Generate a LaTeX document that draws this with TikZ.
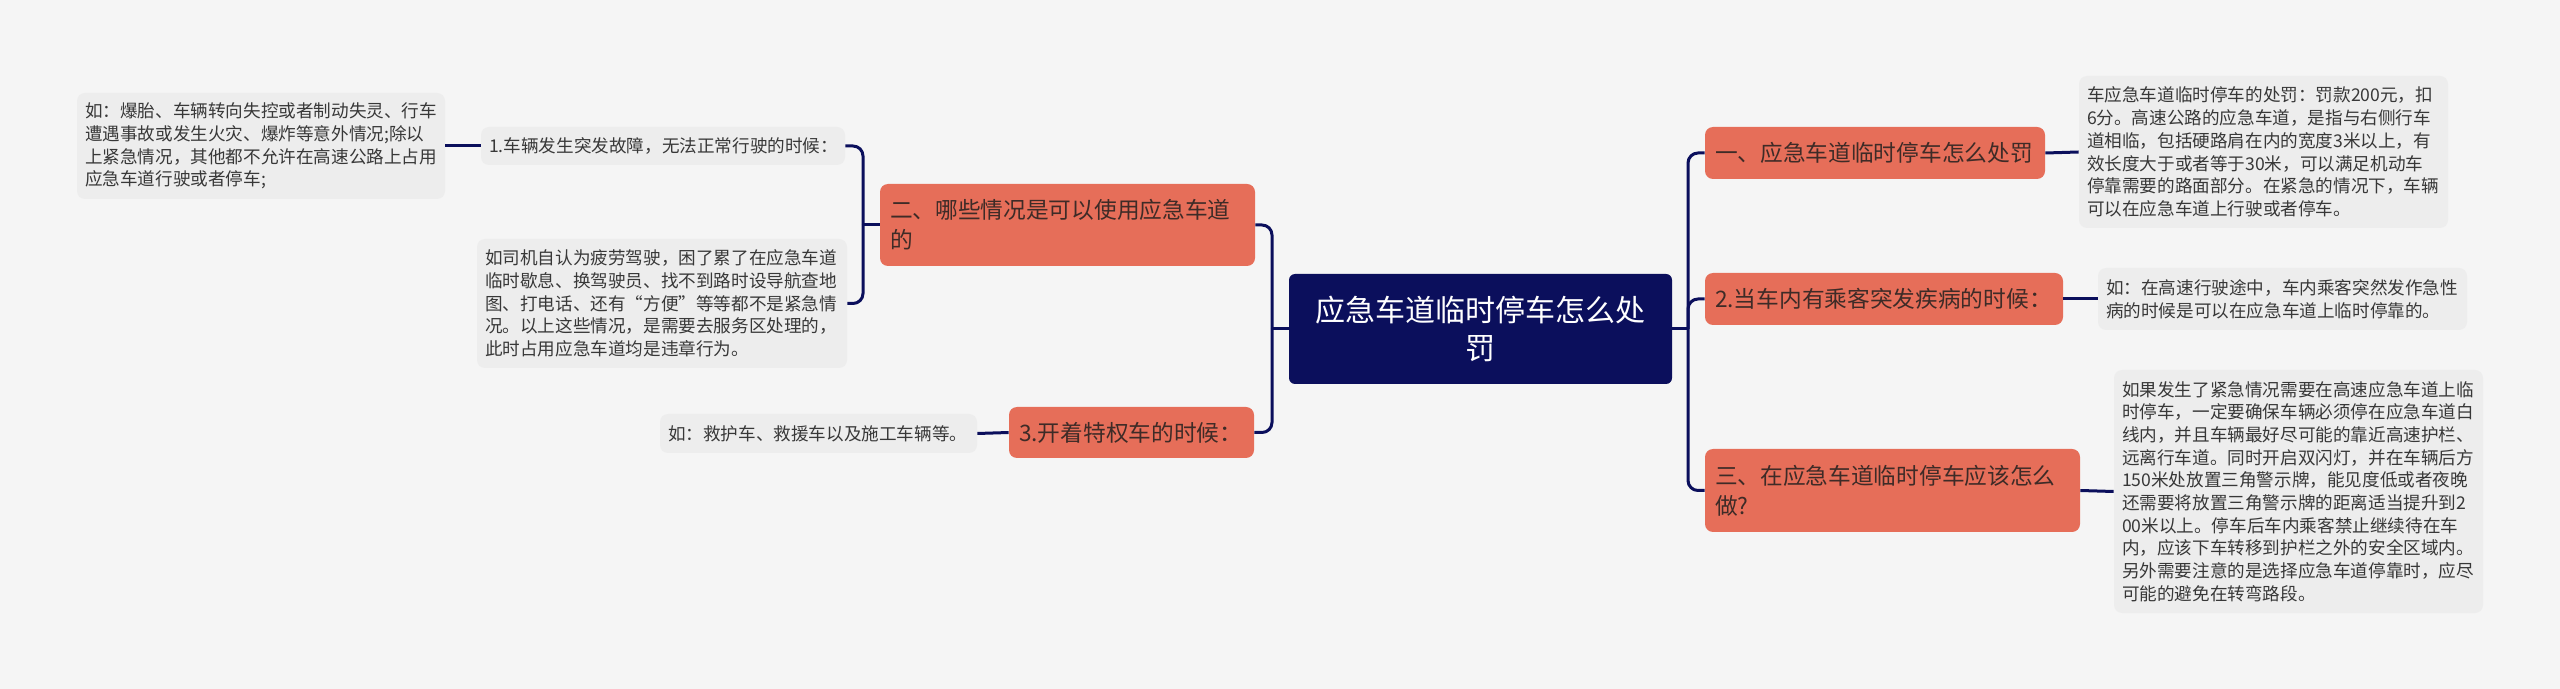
\documentclass[tikz,border=0pt]{standalone}
\usepackage{fontspec}
\setmainfont{Noto Sans CJK SC}
\definecolor{bg}{HTML}{F5F5F5}
\definecolor{leafbg}{HTML}{EDEDED}
\definecolor{leaftext}{HTML}{383838}
\definecolor{navy}{HTML}{0B0F5C}
\definecolor{salmon}{HTML}{E66E59}
\definecolor{branchtext}{HTML}{3E2B27}
\begin{document}
\begin{tikzpicture}[x=0.5pt,y=-0.5pt,
  conn/.style={draw=navy,line width=1.5pt,rounded corners=5pt},
  leaf/.style={fill=leafbg,rounded corners=4pt,inner xsep=4pt,inner ysep=0pt,align=left,text=leaftext,font=\fontsize{8.8pt}{11.35pt}\selectfont},
  branch/.style={fill=salmon,rounded corners=4pt,inner xsep=5pt,inner ysep=0pt,align=left,text=branchtext,font=\fontsize{11.35pt}{15pt}\selectfont},
  root/.style={fill=navy,rounded corners=3pt,inner xsep=5pt,inner ysep=0pt,align=center,text=white,font=\fontsize{15pt}{19pt}\selectfont}]
\fill[bg] (0,0) rectangle (2560,689);
\useasboundingbox (0,0) rectangle (2560,689);

% root
\node[root,text width=181.5pt,minimum height=55pt] (c) at (1480.5,329) {应急车道临时停车怎么处\\罚};

% right branches
\node[branch,text width=160pt,minimum height=26pt] (b1) at (1875,153) {一、应急车道临时停车怎么处罚};
\node[branch,text width=169pt,minimum height=26pt] (b2) at (1884,299) {2.当车内有乘客突发疾病的时候：};
\node[branch,text width=177.5pt,minimum height=41.5pt] (b3) at (1892.5,490.5) {三、在应急车道临时停车应该怎么\\做?};

% left branches
\node[branch,text width=177.5pt,minimum height=41pt] (b4) at (1067.5,225) {二、哪些情况是可以使用应急车道\\的};
\node[branch,text width=112.5pt,minimum height=25.5pt] (b5) at (1131.5,432.5) {3.开着特权车的时候：};

% right leaves
\node[leaf,text width=176.5pt,minimum height=76pt] (r1) at (2263.5,152) {车应急车道临时停车的处罚：罚款200元，扣\\6分。高速公路的应急车道，是指与右侧行车\\道相临，包括硬路肩在内的宽度3米以上，有\\效长度大于或者等于30米，可以满足机动车\\停靠需要的路面部分。在紧急的情况下，车辆\\可以在应急车道上行驶或者停车。};
\node[leaf,text width=176.5pt,minimum height=31pt] (r2) at (2282.5,299) {如：在高速行驶途中，车内乘客突然发作急性\\病的时候是可以在应急车道上临时停靠的。};
\node[leaf,text width=176.5pt,minimum height=121.5pt] (r3) at (2298.5,491.5) {如果发生了紧急情况需要在高速应急车道上临\\时停车，一定要确保车辆必须停在应急车道白\\线内，并且车辆最好尽可能的靠近高速护栏、\\远离行车道。同时开启双闪灯，并在车辆后方\\150米处放置三角警示牌，能见度低或者夜晚\\还需要将放置三角警示牌的距离适当提升到2\\00米以上。停车后车内乘客禁止继续待在车\\内，应该下车转移到护栏之外的安全区域内。\\另外需要注意的是选择应急车道停靠时，应尽\\可能的避免在转弯路段。};

% left leaves
\node[leaf,text width=176pt,minimum height=53pt] (l1) at (261,146) {如：爆胎、车辆转向失控或者制动失灵、行车\\遭遇事故或发生火灾、爆炸等意外情况;除以\\上紧急情况，其他都不允许在高速公路上占用\\应急车道行驶或者停车;};
\node[leaf,text width=174pt,minimum height=19pt] (l2) at (663,146) {1.车辆发生突发故障，无法正常行驶的时候：};
\node[leaf,text width=177pt,minimum height=64.5pt] (l3) at (662,303.5) {如司机自认为疲劳驾驶，困了累了在应急车道\\临时歇息、换驾驶员、找不到路时设导航查地\\图、打电话、还有“方便”等等都不是紧急情\\况。以上这些情况，是需要去服务区处理的，\\此时占用应急车道均是违章行为。};
\node[leaf,text width=150.5pt,minimum height=19.5pt] (l4) at (818.5,433.5) {如：救护车、救援车以及施工车辆等。};

% junction coordinates
\coordinate (rt) at (1688,329);
\coordinate (lt) at (1272,329);
\coordinate (lt2) at (863,225);

% connectors
\draw[conn] (c.east) -- (rt);
\draw[conn] (rt) |- (b1.west);
\draw[conn] (rt) |- (b2.west);
\draw[conn] (rt) |- (b3.west);
\draw[conn] (c.west) -- (lt);
\draw[conn] (lt) |- (b4.east);
\draw[conn] (lt) |- (b5.east);
\draw[conn] (b4.west) -- (lt2);
\draw[conn] (lt2) |- (l2.east);
\draw[conn] (lt2) |- (l3.east);
\draw[conn] (l2.west) -- (l1.east);
\draw[conn] (b5.west) -- (l4.east);
\draw[conn] (b1.east) -- (r1.west);
\draw[conn] (b2.east) -- (r2.west);
\draw[conn] (b3.east) -- (r3.west);
\end{tikzpicture}
\end{document}
